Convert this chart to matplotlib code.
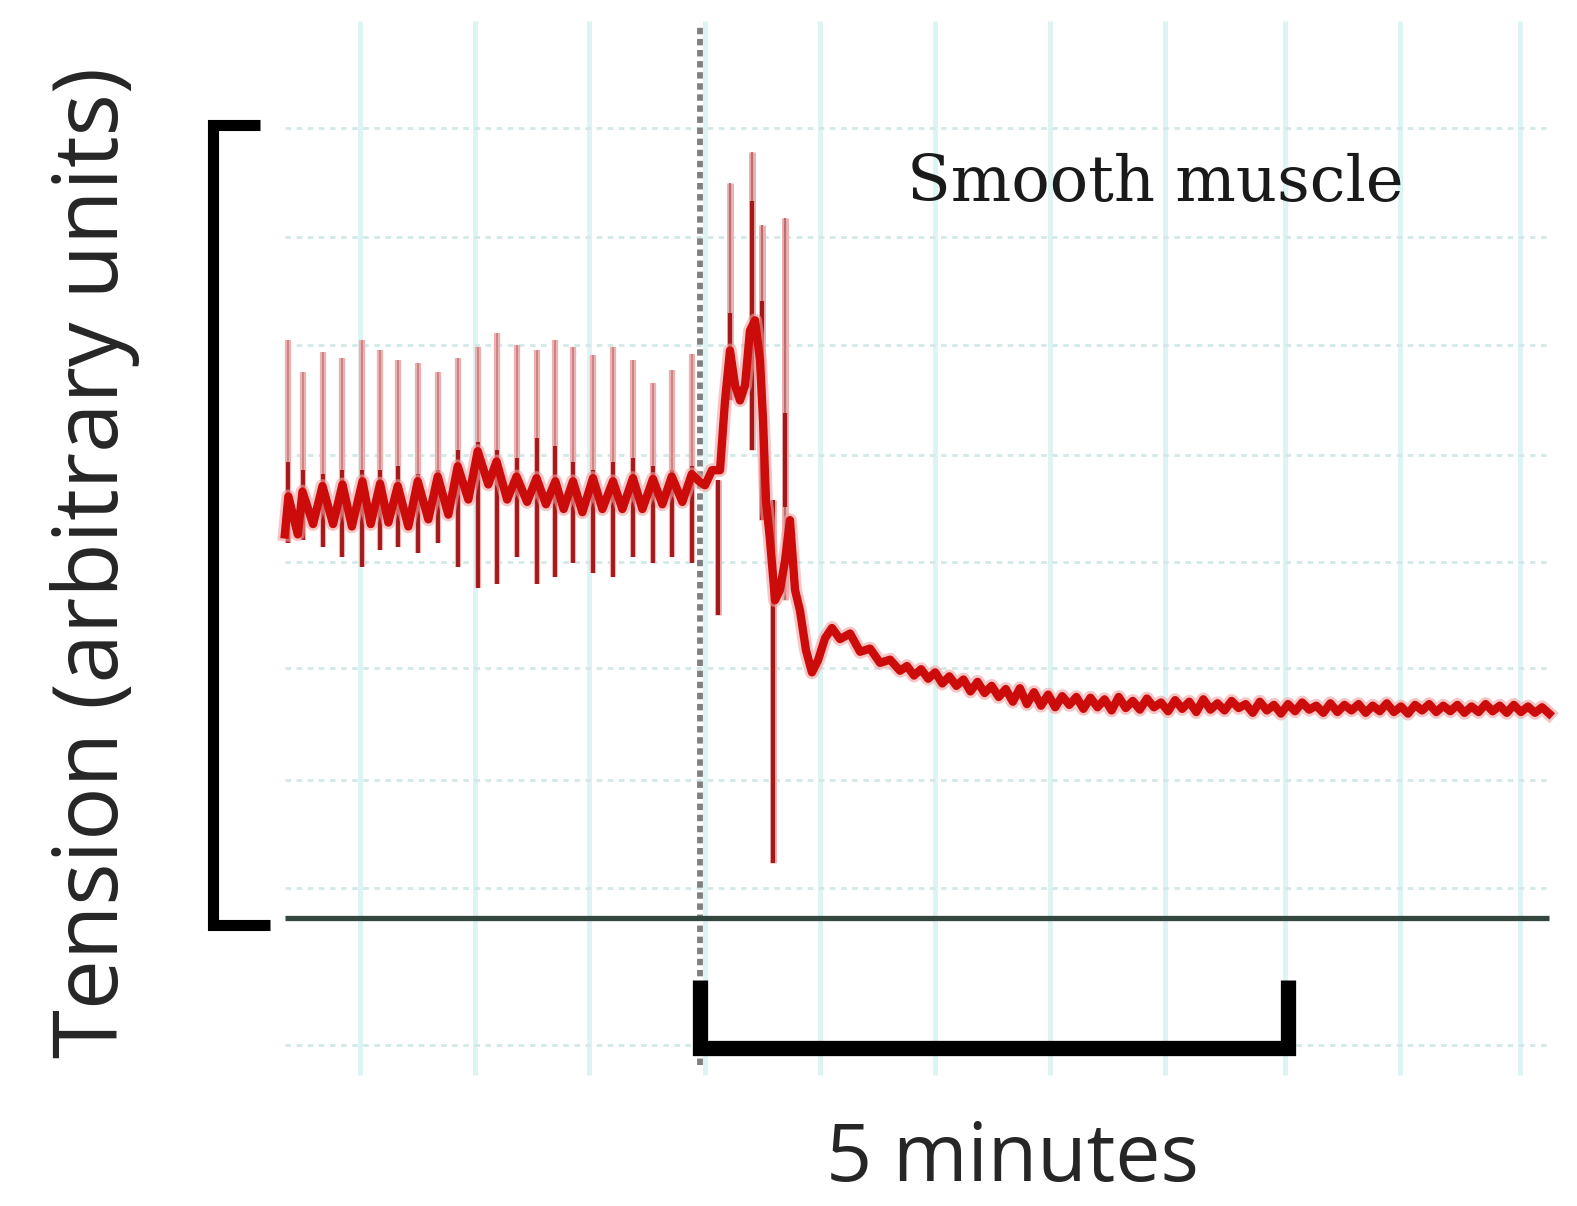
"""Smooth muscle tension trace with a stimulus marker and scale bars."""
import matplotlib
matplotlib.use("Agg")
import matplotlib.pyplot as plt

# time in minutes (0 = stimulus), tension in arbitrary units (bracket = 100)
spike_t = [-3.503, -3.376, -3.206, -3.044, -2.874, -2.721, -2.568, -2.398,
           -2.228, -2.058, -1.888, -1.726, -1.556, -1.386, -1.233, -1.080,
           -0.910, -0.740, -0.570, -0.400, -0.238, -0.068]
spike_top = [72.9, 68.9, 71.4, 70.6, 72.9, 71.6, 70.4, 70.0, 68.9, 70.7, 72.0,
             73.8, 72.3, 71.6, 72.9, 72.0, 71.0, 72.0, 70.4, 67.5, 69.1, 71.2]
spike_bottom = [47.3, 47.7, 46.8, 45.5, 44.3, 46.4, 46.8, 46.0, 47.3, 44.3,
                41.7, 42.2, 45.5, 42.2, 43.0, 44.8, 43.5, 43.0, 45.5, 44.8,
                45.5, 44.8]
spike_dark_top = [57.5, 56.5, 56.0, 56.5, 56.5, 56.5, 57.0, 56.0, 56.5, 59.0,
                  60.0, 59.0, 58.0, 60.5, 59.5, 57.5, 56.5, 57.5, 58.0, 57.0,
                  56.5, 57.0]

# spikes after the stimulus
burst_t = [0.153, 0.255, 0.442, 0.527, 0.621, 0.723]
burst_top = [55.2, 92.7, 96.6, 87.4, 52.7, 88.3]
burst_bottom = [38.2, 65.3, 59.0, 50.2, 6.9, 40.1]
burst_dark_top = [55.2, 76.3, 90.5, 77.9, 52.7, 63.7]
burst_dark_bottom = [38.2, 65.3, 59.0, 50.2, 6.9, 51.8]

trace_t = [-3.53, -3.50, -3.42, -3.38, -3.29, -3.21, -3.12, -3.04, -2.96, -2.87,
           -2.80, -2.72, -2.65, -2.57, -2.48, -2.40, -2.31, -2.23, -2.14, -2.06,
           -1.97, -1.89, -1.80, -1.73, -1.64, -1.56, -1.47, -1.39, -1.31, -1.23,
           -1.16, -1.08, -1.00, -0.91, -0.83, -0.74, -0.66, -0.57, -0.49, -0.40,
           -0.32, -0.24, -0.15, -0.07, 0.00,
           0.043, 0.102, 0.170, 0.213, 0.255, 0.298, 0.340, 0.383, 0.425, 0.468,
           0.510, 0.536, 0.561, 0.595, 0.638, 0.680, 0.723, 0.765, 0.808, 0.850,
           0.901, 0.952, 1.003, 1.063, 1.122, 1.190, 1.276, 1.361, 1.446, 1.531,
           1.616, 1.701]
trace_v = [48.4, 53.2, 48.4, 53.8, 49.7, 54.5, 49.7, 54.7, 49.4, 55.1,
           49.7, 54.8, 49.9, 54.5, 49.4, 55.1, 50.3, 55.7, 50.9, 57.0,
           52.8, 58.9, 54.7, 57.6, 52.8, 55.7, 52.5, 55.5, 52.2, 55.1,
           51.6, 55.1, 51.2, 55.5, 51.6, 55.1, 51.6, 55.5, 51.6, 55.4,
           52.2, 55.7, 52.5, 56.0, 55.0,
           54.6, 56.5, 56.5, 65.3, 71.6, 67.2, 65.3, 67.2, 74.1, 75.4,
           70.4, 62.8, 52.7, 47.7, 40.1, 41.4, 45.1, 50.2, 41.4, 38.8,
           33.8, 31.0, 32.5, 35.3, 36.6, 35.2, 35.9, 33.6, 34.0, 32.2,
           32.6, 31.2]

tail_t = [1.76, 1.82, 1.88, 1.94, 2.00, 2.06, 2.12, 2.18, 2.24, 2.30, 2.36,
          2.42, 2.48, 2.54, 2.60, 2.66, 2.72, 2.78, 2.84, 2.90, 2.96, 3.02,
          3.08, 3.14, 3.20, 3.26, 3.32, 3.38, 3.44, 3.50, 3.56, 3.62, 3.68,
          3.74, 3.80, 3.86, 3.92, 3.98, 4.04, 4.10, 4.16, 4.22, 4.28, 4.34,
          4.40, 4.46, 4.52, 4.58, 4.64, 4.70, 4.76, 4.82, 4.88, 4.94, 5.00,
          5.06, 5.12, 5.18, 5.24, 5.30, 5.36, 5.42, 5.48, 5.54, 5.60, 5.66,
          5.72, 5.78, 5.84, 5.90, 5.96, 6.02, 6.08, 6.14, 6.20, 6.26, 6.32,
          6.38, 6.44, 6.50, 6.56, 6.62, 6.68, 6.74, 6.80, 6.86, 6.92, 6.98,
          7.04, 7.10, 7.16, 7.22]
tail_v = [31.8, 30.6, 31.4, 30.2, 31.0, 29.6, 30.5, 29.3, 30.1, 28.6, 29.8,
          28.4, 29.3, 27.9, 28.9, 27.3, 29.0, 27.0, 28.5, 26.8, 28.2, 26.6,
          28.0, 26.9, 27.9, 26.4, 27.8, 26.6, 27.6, 26.2, 27.9, 26.5, 27.4,
          26.3, 27.7, 26.6, 27.2, 26.1, 27.5, 26.4, 27.3, 26.0, 27.6, 26.3,
          27.1, 26.2, 27.4, 26.5, 27.0, 25.9, 27.3, 26.2, 26.9, 25.8, 27.0,
          26.1, 27.2, 26.3, 26.8, 25.9, 27.1, 26.0, 26.9, 26.2, 27.0, 25.9,
          26.8, 26.1, 27.1, 26.0, 26.7, 25.8, 26.9, 26.2, 27.0, 26.0, 26.8,
          26.1, 26.9, 25.9, 26.7, 26.0, 27.0, 26.1, 26.8, 25.9, 26.9, 26.0,
          26.7, 25.9, 26.6, 25.8]

grid_x = [-2.89, -1.91, -0.94, 0.04, 1.02, 2.0, 2.98, 3.95, 4.97, 5.95, 6.97]
grid_y = [99.7, 85.9, 72.3, 58.4, 44.9, 31.5, 17.4, 3.8, -16.0]

scale_minutes = 5
scale_tension = 100


def main():
    fig = plt.figure(figsize=(15.77, 12.06), dpi=100)
    ax = fig.add_axes([0, 0, 1, 1])
    ax.set_xlim(-5.952, 7.457)
    ax.set_ylim(-36.3, 115.8)
    ax.axis("off")

    t0, t1 = trace_t[0], tail_t[-1]

    # background chart paper
    ax.vlines(grid_x, -19.8, 113.2, color="#dcf4f4", lw=3.5, zorder=0)
    ax.hlines(grid_y, t0, t1, color="#d3e8e8", lw=2, linestyles=(0, (2, 2)),
              zorder=0)
    ax.hlines(0, t0, t1, color="#34473f", lw=3.8, zorder=2)

    # stimulus marker
    ax.vlines(0, -18.5, 112.6, color="#808080", lw=4.2,
              linestyles=(0, (1.1, 0.8)), zorder=1)

    # spontaneous contractions
    ax.vlines(spike_t, spike_bottom, spike_top, color="#eeb0b0", lw=4.5,
              zorder=3)
    ax.vlines(spike_t, spike_bottom, spike_top, color="#c98484", lw=1.4,
              zorder=3)
    ax.vlines(spike_t, spike_bottom, spike_dark_top, color="#a31818", lw=2.8,
              zorder=4)
    ax.vlines(burst_t, burst_bottom, burst_top, color="#eeb0b0", lw=5,
              zorder=3)
    ax.vlines(burst_t, burst_bottom, burst_top, color="#b87070", lw=1.6,
              zorder=3)
    ax.vlines(burst_t, burst_dark_bottom, burst_dark_top, color="#a31818",
              lw=3, zorder=4)

    all_t = trace_t + tail_t
    all_v = trace_v + tail_v
    ax.plot(all_t, all_v, color="#f2a0a0", lw=10, alpha=0.6,
            solid_joinstyle="round", zorder=4)
    ax.plot(all_t, all_v, color="#cc0b0b", lw=6, solid_joinstyle="round",
            zorder=5)

    # scale bars
    ax.plot([-3.741, -4.141, -4.141, -3.656],
            [scale_tension, scale_tension, -0.8, -0.8],
            color="black", lw=8, solid_joinstyle="miter",
            solid_capstyle="butt", zorder=6)
    ax.plot([0, 0, scale_minutes, scale_minutes], [-7.8, -16.4, -16.4, -7.8],
            color="black", lw=11, solid_joinstyle="miter",
            solid_capstyle="butt", zorder=6)

    ax.text(-5.145, 44.9, "Tension (arbitrary units)", rotation=90,
            ha="center", va="center", fontsize=64, family="Open Sans",
            color="#262626")
    ax.text(3.869, 92.6, "Smooth muscle", ha="center", va="center",
            fontsize=46, family="DejaVu Serif", color="#1a1a1a")
    ax.text(2.653, -30.5, f"{scale_minutes} minutes", ha="center",
            va="center", fontsize=58, family="Open Sans", color="#262626")

    fig.savefig("out.png", dpi=100)
    plt.close(fig)


if __name__ == "__main__":
    main()
